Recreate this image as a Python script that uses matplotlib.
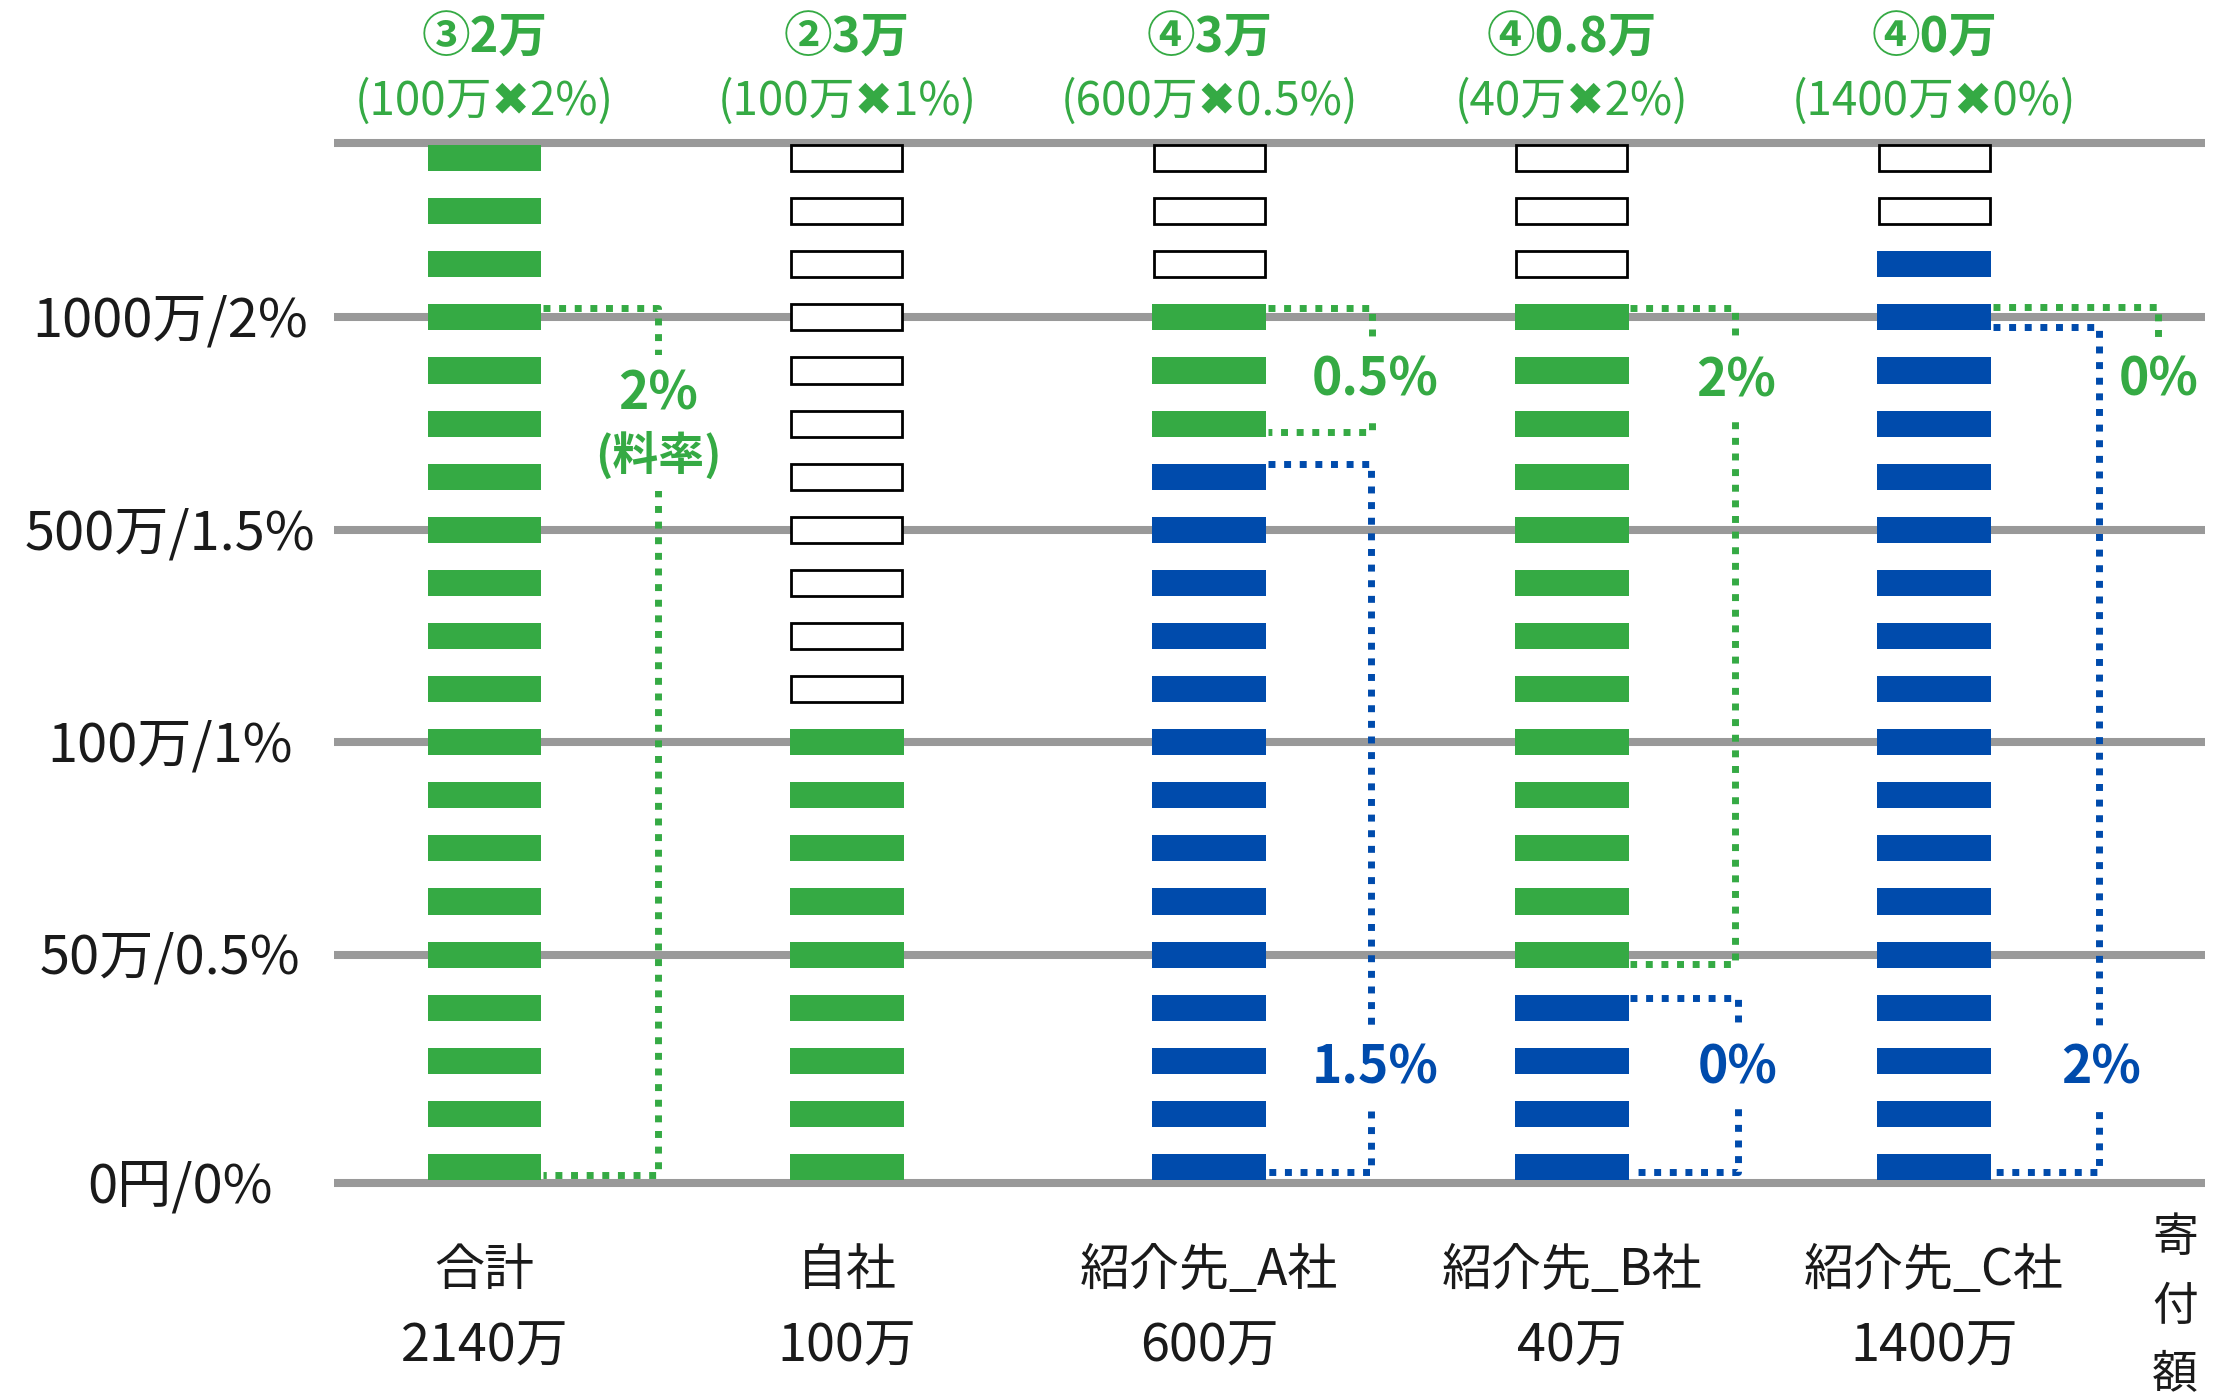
import matplotlib
matplotlib.use('Agg')
import matplotlib.pyplot as plt

plt.rcParams['font.family'] = ['Noto Sans CJK JP', 'DejaVu Sans']

GREEN = '#35aa44'
BLUE = '#004bac'
GRID = '#999999'
INK = '#1a1a1a'

# columns (left to right)
columns = ['合計', '自社', '紹介先_A社', '紹介先_B社', '紹介先_C社']
amounts = ['2140万', '100万', '600万', '40万', '1400万']
fees = ['③2万', '②3万', '④3万', '④0.8万', '④0万']
formulas = ['(100万✖2%)', '(100万✖1%)', '(600万✖0.5%)', '(40万✖2%)', '(1400万✖0%)']

# stacked segments from the bottom: (number of blocks, kind)
stacks = [
    [(20, 'green')],
    [(9, 'green'), (11, 'empty')],
    [(14, 'blue'), (3, 'green'), (3, 'empty')],
    [(4, 'blue'), (13, 'green'), (3, 'empty')],
    [(18, 'blue'), (2, 'empty')],
]

# horizontal lines (in block units) and their labels
grid_y = [-0.3, 4, 8, 12, 16, 19.28]
ytick_labels = ['0円/0%', '50万/0.5%', '100万/1%', '500万/1.5%', '1000万/2%']
ytick_x = [-0.84, -0.867, -0.867, -0.867, -0.867]

# dotted brackets: (column, colour, top, bottom, x offset, closed bottom)
brackets = [
    (0, 'green', 16.18, -0.15, 0.48, True),
    (2, 'green', 16.18, 13.84, 0.45, True),
    (2, 'blue', 13.24, -0.09, 0.447, True),
    (3, 'green', 16.18, 3.82, 0.45, True),
    (3, 'blue', 3.18, -0.09, 0.458, True),
    (4, 'green', 16.2, 14.9, 0.618, False),
    (4, 'blue', 15.82, -0.09, 0.455, True),
]

# rate labels: (column, colour, text, y, x offset, size)
rate_labels = [
    (0, 'green', '2%', 14.63, 0.48, 37),
    (0, 'green', '(料率)', 13.47, 0.48, 33),
    (2, 'green', '0.5%', 14.9, 0.458, 37),
    (2, 'blue', '1.5%', 1.94, 0.458, 37),
    (3, 'green', '2%', 14.88, 0.455, 37),
    (3, 'blue', '0%', 1.94, 0.458, 37),
    (4, 'green', '0%', 14.9, 0.62, 37),
    (4, 'blue', '2%', 1.94, 0.46, 37),
]

side_label = '寄付額'

colours = {'green': GREEN, 'blue': BLUE}

fig = plt.figure(figsize=(22.28, 13.97), dpi=100)
ax = fig.add_axes([0, 0, 1, 1])
ax.set_xlim(-1.337, 4.811)
ax.set_ylim(-4.331, 21.977)
ax.axis('off')

BAR_W = 0.314
BAR_H = 0.49
DY = -0.07  # nudge for text baseline

for y in grid_y:
    ax.plot([-0.415, 4.748], [y, y], color=GRID, lw=5.8, solid_capstyle='butt', zorder=1)

for i, segs in enumerate(stacks):
    k = 0
    for n, kind in segs:
        ks = list(range(k, k + n))
        if kind == 'empty':
            ax.bar([i] * n, [BAR_H] * n, bottom=[v - BAR_H / 2 for v in ks], width=BAR_W - 0.008,
                   color='white', edgecolor='black', linewidth=2, zorder=3)
        else:
            ax.bar([i] * n, [BAR_H] * n, bottom=[v - BAR_H / 2 for v in ks], width=BAR_W,
                   color=colours[kind], linewidth=0, zorder=3)
        k += n

for col, c, top, bot, xo, closed in brackets:
    x0 = col + BAR_W / 2 + 0.005
    xv = col + xo
    if closed:
        xs, ys = [x0, xv, xv, x0], [top, top, bot, bot]
    else:
        xs, ys = [x0, xv, xv], [top, top, bot]
    ax.plot(xs, ys, color=colours[c], lw=5, linestyle=(0, (1, 1.25)), zorder=2)

for col, c, t, y, xo, fs in rate_labels:
    ax.text(col + xo, y + DY, t, color=colours[c], fontsize=fs, fontweight='bold',
            ha='center', va='center', zorder=4,
            bbox=dict(boxstyle='square,pad=0.25', fc='white', ec='none'))

for y, lab, x in zip(grid_y, ytick_labels, ytick_x):
    ax.text(x, y + DY, lab, color=INK, fontsize=39, ha='center', va='center')

for i in range(len(columns)):
    ax.text(i, 21.33 + DY, fees[i], color=GREEN, fontsize=35, fontweight='bold', ha='center', va='center')
    ax.text(i, 20.14 + DY, formulas[i], color=GREEN, fontsize=33, ha='center', va='center')
    ax.text(i, -1.88 + DY, columns[i], color=INK, fontsize=36, ha='center', va='center')
    ax.text(i, -3.31 + DY, amounts[i], color=INK, fontsize=37.5, ha='center', va='center')

# vertical caption at the right, one character per line
for j, ch in enumerate(side_label):
    ax.text(4.665, -1.34 - 1.29 * j, ch, color=INK, fontsize=33, ha='center', va='center')

fig.savefig('out.png', dpi=100)
